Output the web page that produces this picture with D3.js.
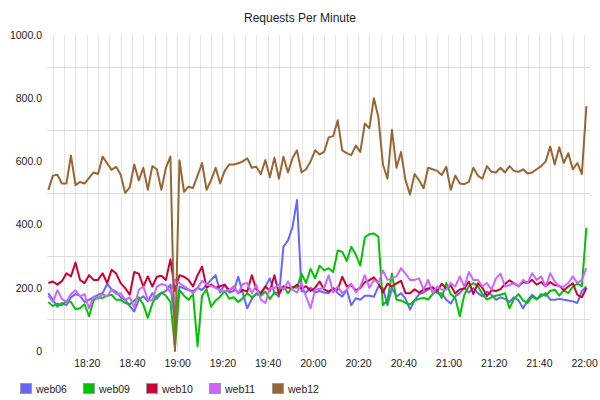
<!DOCTYPE html>
<html>
<head>
<meta charset="utf-8">
<script src="https://cdn.jsdelivr.net/npm/d3@7/dist/d3.min.js"></script>
<style>
  html, body { margin: 0; padding: 0; background: #fff; }
  svg { display: block; }
  text { font-family: "Liberation Sans", Arial, sans-serif; }
</style>
</head>
<body>
<svg id="chart" width="600" height="400"></svg>
<script>
const title = "Requests Per Minute";
const seriesNames = ["web06", "web09", "web10", "web11", "web12"];
const seriesColors = ["#6666ff", "#00c400", "#cc0033", "#cc66ff", "#996633"];
const startTime = "18:03";
const intervalMinutes = 2;
const yTickValues = [0, 200, 400, 600, 800, 1000];
const yGridValues = [100, 300, 500, 700, 900];
const xTickLabels = ["18:20","18:40","19:00","19:20","19:40","20:00","20:20","20:40","21:00","21:20","21:40","22:00"];

const web06 = [183,162,140,152,145,170,180,175,155,162,170,178,183,212,195,188,170,162,142,125,
  162,173,157,183,165,183,190,210,90,204,198,193,190,200,193,210,225,240,185,210,
  185,190,235,183,135,165,183,180,204,230,183,172,330,350,392,478,190,185,200,185,
  190,185,183,200,183,172,194,145,167,162,175,175,172,204,199,145,199,172,183,165,
  131,160,180,185,195,200,183,183,162,150,173,183,200,185,199,183,173,188,178,162,
  170,165,155,170,160,135,160,178,165,173,183,162,162,165,162,160,157,152,190,204];
const web09 = [155,142,150,145,158,155,132,135,148,110,160,170,168,175,178,162,162,152,147,160,
  170,147,105,150,175,185,175,155,10,193,175,162,180,15,175,195,140,160,172,190,
  165,170,155,167,183,170,180,175,188,165,185,184,205,183,202,200,245,215,260,230,
  270,255,262,250,318,314,285,330,305,270,360,370,372,362,145,160,245,162,160,152,
  147,160,165,168,163,180,192,168,215,180,168,110,178,205,215,205,180,163,170,175,
  178,183,135,165,180,160,152,172,163,180,175,190,194,175,192,183,204,213,205,390];
const web10 = [215,220,210,221,246,236,280,225,215,240,225,225,246,215,257,245,215,199,178,250,
  245,204,236,204,235,238,225,290,190,240,235,225,204,240,267,200,210,200,205,210,
  192,204,183,193,188,240,195,183,204,190,240,180,204,200,200,209,198,205,190,200,
  220,195,188,197,194,235,205,208,192,200,218,224,233,215,185,213,204,214,222,183,
  183,195,185,194,198,202,190,213,198,207,182,195,198,220,180,214,200,174,192,190,
  196,212,224,214,205,218,215,225,210,218,205,218,208,207,192,204,214,178,170,199];
const web11 = [175,155,192,165,155,180,192,173,180,135,172,165,180,173,194,180,183,162,170,138,
  194,204,162,160,204,212,208,185,225,215,205,195,183,199,222,210,206,200,193,188,
  193,204,183,212,215,183,209,162,152,199,199,210,194,220,194,185,215,172,135,194,
  197,199,240,185,204,183,194,213,185,204,240,200,225,215,255,225,230,236,262,245,
  225,225,230,194,225,183,204,194,194,215,204,236,204,250,225,225,204,215,194,230,
  245,204,209,215,204,225,215,246,225,236,204,246,220,204,204,215,236,215,225,262];
const web12 = [510,555,558,530,530,618,525,535,530,548,565,560,615,594,573,583,558,500,518,590,
  540,580,510,585,575,510,580,615,0,604,504,520,516,555,595,510,541,580,530,570,
  590,590,594,600,610,580,583,560,604,550,612,545,615,565,610,635,565,575,600,635,
  622,630,676,680,730,635,626,620,650,630,720,705,800,740,590,545,700,580,630,540,
  495,560,540,515,580,575,570,557,583,510,555,530,528,535,580,555,545,585,567,565,
  580,565,585,570,567,575,562,565,575,585,600,647,590,645,595,626,575,595,560,775];

const seriesValues = [web06, web09, web10, web11, web12];

const svg = d3.select("#chart");
const parseHM = d3.timeParse("%H:%M");
const base = parseHM(startTime);
const times = web12.map((_, i) => d3.timeMinute.offset(base, i * intervalMinutes));

const x = d3.scaleTime()
  .domain([new Date(base.getTime() - 36 * 1000), new Date(base.getTime() + (239 * 60 + 36) * 1000)])
  .range([47, 590]);
const y = d3.scaleLinear().domain([0, 1000]).range([351, 35]);

// vertical grid every 5 minutes
const gridTimes = d3.timeMinute.every(5).range(x.domain()[0], x.domain()[1]);
svg.append("g")
  .selectAll("line").data(gridTimes).join("line")
  .attr("x1", d => Math.round(x(d)) + 0.5).attr("x2", d => Math.round(x(d)) + 0.5)
  .attr("y1", y(1000)).attr("y2", y(0) + 1)
  .attr("stroke", "#e4e4e4").attr("stroke-width", 1);

// horizontal grid
svg.append("g")
  .selectAll("line").data(yGridValues).join("line")
  .attr("x1", 47).attr("x2", 590)
  .attr("y1", d => Math.round(y(d)) + 0.5).attr("y2", d => Math.round(y(d)) + 0.5)
  .attr("stroke", "#dcdcdc").attr("stroke-width", 1);

// y axis labels
const yAxis = d3.axisLeft(y).tickValues(yTickValues).tickSize(0).tickPadding(0)
  .tickFormat(d => d === 0 ? "0" : d3.format(".1f")(d));
const gy = svg.append("g").attr("transform", "translate(42,0)").call(yAxis);
gy.select(".domain").remove();
gy.selectAll("text").attr("font-size", "10.5px").attr("fill", "#222")
  .attr("font-family", "'Liberation Sans', Arial, sans-serif");

// x axis labels
const xTickDates = xTickLabels.map(s => { const d = parseHM(s); return d; });
const xAxis = d3.axisBottom(x).tickValues(xTickDates).tickSize(0).tickPadding(0)
  .tickFormat(d3.timeFormat("%H:%M"));
const gx = svg.append("g").attr("transform", "translate(0,360)").call(xAxis);
gx.select(".domain").remove();
gx.selectAll("text").attr("font-size", "10.5px").attr("fill", "#222")
  .attr("font-family", "'Liberation Sans', Arial, sans-serif");

// lines
const line = d3.line().x((d, i) => x(times[i])).y(d => y(d));
svg.append("g").selectAll("path").data(seriesValues).join("path")
  .attr("d", d => line(d))
  .attr("fill", "none")
  .attr("stroke", (d, i) => seriesColors[i])
  .attr("stroke-width", 2)
  .attr("stroke-linejoin", "round");

// title
svg.append("text").attr("x", 300).attr("y", 22).attr("text-anchor", "middle")
  .attr("font-size", "12px").attr("fill", "#222").text(title);

// legend
const legend = svg.append("g").attr("transform", "translate(20,383)");
const items = legend.selectAll("g").data(seriesNames).join("g")
  .attr("transform", (d, i) => `translate(${i * 63},0)`);
items.append("rect").attr("x", 0.5).attr("y", 0.5).attr("width", 11).attr("height", 10)
  .attr("fill", (d, i) => seriesColors[i]).attr("stroke", "#999").attr("stroke-width", 1);
items.append("text").attr("x", 16).attr("y", 9.5).attr("font-size", "10.5px")
  .attr("fill", "#222").text(d => d);
</script>
</body>
</html>
